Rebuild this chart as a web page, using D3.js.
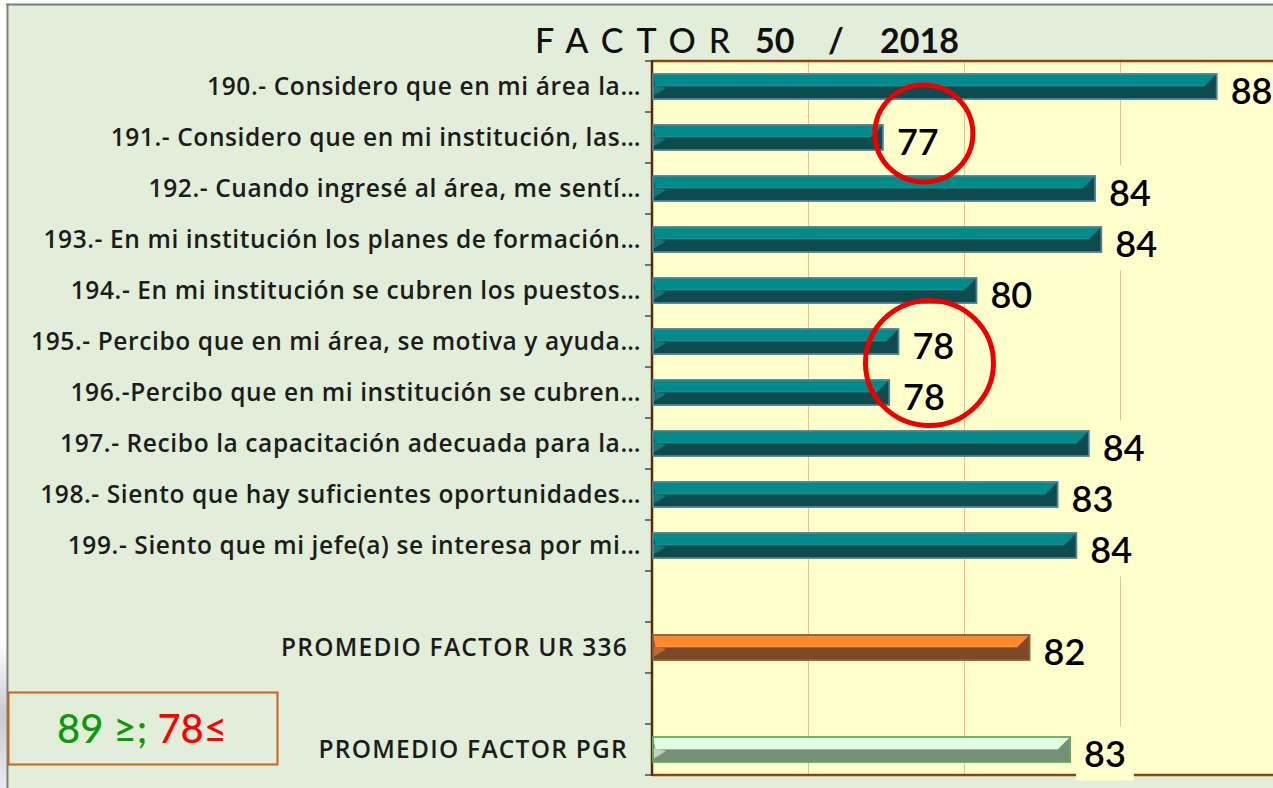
<!DOCTYPE html>
<html>
<head>
<meta charset="utf-8">
<script src="https://cdn.jsdelivr.net/npm/d3@7"></script>
<style>
  html, body { margin: 0; padding: 0; background: #ffffff; }
  svg { display: block; }
</style>
</head>
<body>
<svg id="chart" width="1273" height="788"></svg>
<script>
// ---- data ----
const categories = [
  "190.- Considero que en mi área la…",
  "191.- Considero que en mi institución, las…",
  "192.- Cuando ingresé al área, me sentí…",
  "193.- En mi institución los planes de formación…",
  "194.- En mi institución se cubren los puestos…",
  "195.- Percibo que en mi área, se motiva y ayuda…",
  "196.-Percibo que en mi institución se cubren…",
  "197.- Recibo la capacitación adecuada para la…",
  "198.- Siento que hay suficientes oportunidades…",
  "199.- Siento que mi jefe(a) se interesa por mi…"
];
const values = [88.1, 77.4, 84.2, 84.4, 80.4, 77.9, 77.6, 84.0, 83.0, 83.6];
const summaryCategories = ["PROMEDIO FACTOR UR 336", "PROMEDIO FACTOR PGR"];
const summaryValues = [82.1, 83.4];
const xTicks = [75, 80, 85, 90];
const titleParts = ["FACTOR", "50", "/", "2018"];
const legendGood = "89 ≥;";
const legendBad = "78≤";
const highlighted = [["191.- Considero que en mi institución, las…"],
                     ["195.- Percibo que en mi área, se motiva y ayuda…", "196.-Percibo que en mi institución se cubren…"]];

// ---- rows (with blank gaps) ----
const rows = [];
categories.forEach((c, i) => rows.push({key: c, label: c, value: values[i], kind: "item"}));
rows.push({key: "__gap1", label: "", value: null, kind: "gap"});
rows.push({key: summaryCategories[0], label: summaryCategories[0], value: summaryValues[0], kind: "ur"});
rows.push({key: "__gap2", label: "", value: null, kind: "gap"});
rows.push({key: summaryCategories[1], label: summaryCategories[1], value: summaryValues[1], kind: "pgr"});

const svg = d3.select("#chart");
const W = 1273, H = 788;

// frame
svg.append("rect").attr("x", 7).attr("y", 4).attr("width", W - 7).attr("height", H - 4).attr("fill", "#e2eed9");
const grad = svg.append("defs").append("linearGradient").attr("id", "fringe").attr("x1", 0).attr("y1", 0).attr("x2", 0).attr("y2", 1);
grad.append("stop").attr("offset", "0").attr("stop-color", "#ffffff");
grad.append("stop").attr("offset", "0.5").attr("stop-color", "#c8ccd2");
grad.append("stop").attr("offset", "1").attr("stop-color", "#e8eaee");
svg.append("rect").attr("x", 0).attr("y", 640).attr("width", 7).attr("height", 148).attr("fill", "url(#fringe)");
svg.append("line").attr("x1", 6).attr("x2", W).attr("y1", 4.5).attr("y2", 4.5).attr("stroke", "#7c7c7c").attr("stroke-width", 2);
svg.append("line").attr("x1", 7.5).attr("x2", 7.5).attr("y1", 4).attr("y2", H).attr("stroke", "#7c7c7c").attr("stroke-width", 2);

// scales
const plotL = 652, plotT = 61, plotB = 775;
const x = d3.scaleLinear().domain([70, 90]).range([plotL, 1276]);
const y = d3.scaleBand().domain(rows.map(r => r.key)).range([plotT, plotB]).paddingInner(0.51).paddingOuter(0.255);

// plot background
svg.append("rect").attr("x", plotL).attr("y", plotT).attr("width", W - plotL).attr("height", plotB - plotT).attr("fill", "#ffffcc");

// gridlines
svg.append("g").selectAll("line").data(xTicks).join("line")
  .attr("x1", d => x(d) + 0.5).attr("x2", d => x(d) + 0.5)
  .attr("y1", plotT).attr("y2", plotB)
  .attr("stroke", "#f4b89c").attr("stroke-width", 1);

// borders
svg.append("line").attr("x1", plotL).attr("x2", W).attr("y1", plotT).attr("y2", plotT).attr("stroke", "#8b4513").attr("stroke-width", 2.5);
svg.append("line").attr("x1", plotL).attr("x2", W).attr("y1", plotB).attr("y2", plotB).attr("stroke", "#8b4513").attr("stroke-width", 2.5);

// y axis labels
const kindOf = k => rows.find(r => r.key === k).kind;
const yAxis = d3.axisLeft(y).tickSize(0).tickPadding(11).tickFormat(k => rows.find(r => r.key === k).label);
const ya = svg.append("g").attr("transform", `translate(${plotL},0)`).call(yAxis);
ya.select(".domain").remove();
ya.selectAll("text")
  .attr("font-family", "'Open Sans', Lato, sans-serif")
  .attr("font-size", 24.5).attr("font-weight", 600).attr("fill", "#1c1c1c")
  .attr("letter-spacing", k => kindOf(k) === "item" ? 0.6 : 1.25)
  .attr("dy", "0.36em")
  .attr("dx", k => kindOf(k) === "item" ? 0 : -13);

// boundary ticks
const bounds = d3.range(rows.length + 1).map(i => plotT + i * y.step());
svg.append("g").selectAll("line").data(bounds).join("line")
  .attr("x1", plotL - 7).attr("x2", plotL).attr("y1", d => d).attr("y2", d => d)
  .attr("stroke", "#4a4a4a").attr("stroke-width", 1.5);
svg.append("line").attr("x1", plotL).attr("x2", plotL).attr("y1", plotT - 1).attr("y2", plotB + 1)
  .attr("stroke", "#5a2a0c").attr("stroke-width", 2.5);

// bars
const palettes = {
  item: {top: "#038a8b", bottom: "#0d4b4e", left: "#1a7476", stroke: "#4f7f93", line: "#3aa0a0"},
  ur:   {top: "#ff8a2b", bottom: "#7f4826", left: "#c36a30", stroke: "#8c5e3d", line: "#ffa860"},
  pgr:  {top: "#e0ffe0", bottom: "#768f78", left: "#b8d8b8", stroke: "#5eac5e", line: "#f4fff4"}
};
const barRows = rows.filter(r => r.value !== null);
const bars = svg.append("g").selectAll("g").data(barRows).join("g");
bars.each(function(d) {
  const g = d3.select(this);
  const p = palettes[d.kind];
  const x0 = x(70) + 1, x1 = x(d.value), y0 = y(d.key), h = y.bandwidth(), b = h * 0.48;
  g.append("rect").attr("x", x0).attr("y", y0).attr("width", x1 - x0).attr("height", h).attr("fill", p.bottom);
  g.append("polygon").attr("points", [[x0, y0], [x1, y0], [x1 - b, y0 + b], [x0 + b * 0.2, y0 + b]].join(" ")).attr("fill", p.top);
  g.append("line").attr("x1", x0 + b * 0.2).attr("x2", x1 - b).attr("y1", y0 + b).attr("y2", y0 + b).attr("stroke", p.line).attr("stroke-width", 1).attr("opacity", 0.6);
  g.append("polygon").attr("points", [[x0, y0 + b - 1], [x0 + b * 1.1, y0 + b + 2], [x0, y0 + h - 3]].join(" ")).attr("fill", p.left);
  g.append("rect").attr("x", x0).attr("y", y0).attr("width", x1 - x0).attr("height", h)
    .attr("fill", "none").attr("stroke", p.stroke).attr("stroke-width", 1.8);
});

// value labels with background boxes
const fmt = d3.format(".0f");
const lab = svg.append("g").selectAll("g").data(barRows).join("g");
lab.each(function(d) {
  const g = d3.select(this);
  const cy = y(d.key) + y.bandwidth() / 2 + 4;
  const tx = x(d.value) + 14;
  const box = g.append("rect");
  const t = g.append("text").attr("x", tx).attr("y", cy + 13)
    .attr("font-family", "Lato, 'Open Sans', sans-serif").attr("font-size", 36).attr("font-weight", 600)
    .attr("fill", "#000").text(fmt(d.value));
  const w = t.node().getComputedTextLength();
  box.attr("x", x(d.value) + 6).attr("y", cy - 27).attr("width", w + 16).attr("height", 54).attr("fill", "#ffffcc");
});

// title
const title = svg.append("text").attr("y", 53).attr("font-family", "Lato, 'Open Sans', sans-serif").attr("font-size", 34).attr("fill", "#111");
title.append("tspan").attr("x", 535).attr("letter-spacing", 13).attr("font-weight", 500).text(titleParts[0]);
title.append("tspan").attr("x", 755).attr("font-weight", 700).text(titleParts[1]);
title.append("tspan").attr("x", 828).attr("font-weight", 700).text(titleParts[2]);
title.append("tspan").attr("x", 880).attr("font-weight", 700).text(titleParts[3]);

// highlight ellipses
const ann = svg.append("g");
highlighted.forEach(keys => {
  const vals = keys.map(k => rows.find(r => r.key === k).value);
  const ys = keys.map(k => y(k) + y.bandwidth() / 2);
  const cx = x(d3.max(vals)) + (keys.length > 1 ? 31 : 41);
  const cy = d3.mean(ys) - 4;
  const r = keys.length > 1 ? [64, 62.5] : [49, 48.5];
  ann.append("ellipse").attr("cx", cx).attr("cy", cy).attr("rx", r[0]).attr("ry", r[1])
    .attr("fill", "none").attr("stroke", "#ee0000").attr("stroke-width", 5);
});

// legend box
svg.append("rect").attr("x", 8.5).attr("y", 692.5).attr("width", 269).attr("height", 72)
  .attr("fill", "#e2eed9").attr("stroke", "#c8621c").attr("stroke-width", 2);
const lt = svg.append("text").attr("x", 142).attr("y", 743).attr("text-anchor", "middle")
  .attr("font-family", "Lato, 'Open Sans', sans-serif").attr("font-size", 40).attr("font-weight", 500);
lt.append("tspan").attr("fill", "#0a9a0a").text(legendGood + " ");
lt.append("tspan").attr("fill", "#ff0000").text(legendBad);
</script>
</body>
</html>
